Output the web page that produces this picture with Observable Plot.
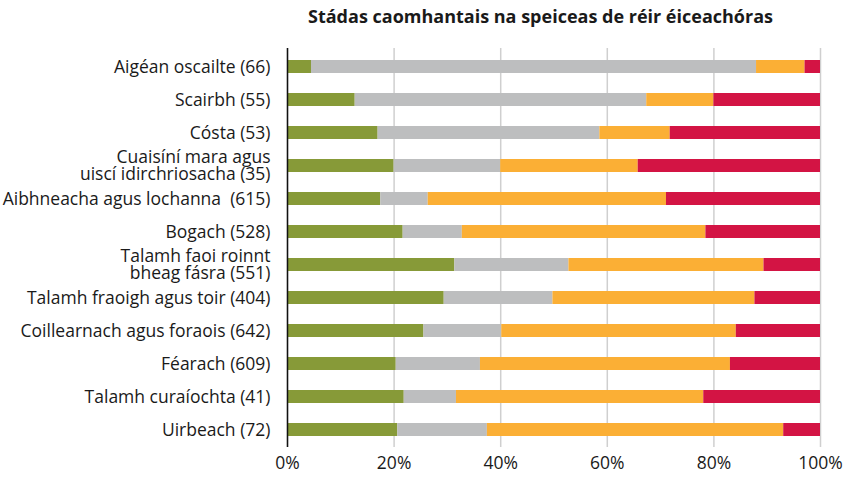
<!DOCTYPE html>
<html>
<head>
<meta charset="utf-8">
<script src="https://cdn.jsdelivr.net/npm/d3@7"></script>
<script src="https://cdn.jsdelivr.net/npm/@observablehq/plot@0.6"></script>
<style>
  html, body { margin: 0; padding: 0; background: #fff; }
</style>
</head>
<body>
<div id="chart"></div>
<script>
const title = "Stádas caomhantais na speiceas de réir éiceachóras";
const categories = [
  "Aigéan oscailte (66)",
  "Scairbh (55)",
  "Cósta (53)",
  "Cuaisíní mara agus\nuiscí idirchriosacha (35)",
  "Aibhneacha agus lochanna  (615)",
  "Bogach (528)",
  "Talamh faoi roinnt\nbheag fásra (551)",
  "Talamh fraoigh agus toir (404)",
  "Coillearnach agus foraois (642)",
  "Féarach (609)",
  "Talamh curaíochta (41)",
  "Uirbeach (72)"
];
const seriesNames = ["Fabhrach", "Anaithnid", "Neamhleor", "Droch"];
const seriesColors = ["#879a38", "#bdbebf", "#fbaf35", "#d31444"];
const favourable = [4.5, 12.7, 17.0, 20.0, 17.5, 21.7, 31.4, 29.4, 25.6, 20.4, 21.9, 20.7];
const unknown    = [83.5, 54.7, 41.6, 20.0, 8.9, 11.1, 21.4, 20.4, 14.6, 15.8, 9.8, 16.8];
const inadequate = [9.1, 12.6, 13.2, 25.8, 44.7, 45.7, 36.6, 37.9, 44.0, 46.9, 46.4, 55.6];
const bad        = [2.9, 20.0, 28.2, 34.2, 28.9, 21.5, 10.6, 12.3, 15.8, 16.9, 21.9, 6.9];
const xTicks = [0, 20, 40, 60, 80, 100];

const seriesValues = [favourable, unknown, inadequate, bad];
const rows = [];
categories.forEach((c, i) => {
  seriesNames.forEach((s, j) => {
    rows.push({category: c, series: s, value: seriesValues[j][i]});
  });
});

const chart = Plot.plot({
  width: 848,
  height: 478,
  marginLeft: 287,
  marginRight: 28,
  marginTop: 48,
  marginBottom: 31,
  style: {fontFamily: "'Open Sans', 'Noto Sans', sans-serif", fontSize: "17px", color: "#1a1a1a", background: "#fff"},
  x: {domain: [0, 100], ticks: xTicks, tickFormat: d => d + "%", label: null},
  y: {domain: categories, paddingInner: 0.61, paddingOuter: 0.305, label: null, axis: null},
  color: {domain: seriesNames, range: seriesColors},
  marks: [
    Plot.gridX(xTicks, {stroke: "#cfcfcf", strokeOpacity: 1, strokeWidth: 1.5}),
    Plot.barX(rows, Plot.stackX({x: "value", y: "category", fill: "series", order: null})),
    Plot.ruleX([0], {stroke: "#111", strokeWidth: 1.5}),
    Plot.axisX(xTicks, {tickSize: 0, tickPadding: 9, fontSize: 17.5, label: null, tickFormat: d => d + "%"}),
    Plot.text(categories, {y: d => d, frameAnchor: "left", textAnchor: "end", dx: -17, fontSize: 17.5, lineHeight: 1.0, fill: "#1a1a1a"}),
    Plot.text([title], {frameAnchor: "top", dx: -13.5, dy: -31, lineAnchor: "middle", fontWeight: "bold", fontSize: 18, fill: "#1a1a1a"})
  ]
});
document.getElementById("chart").appendChild(chart);
</script>
</body>
</html>
